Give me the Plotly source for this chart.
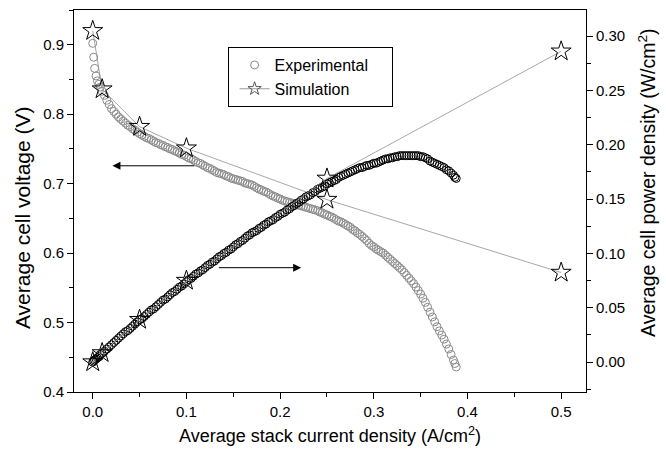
import plotly.graph_objects as go

# ---- data ----
exp_current = [0.000, 0.001, 0.002, 0.0035, 0.005, 0.0065, 0.008, 0.010, 0.0125, 0.015,
               0.0175, 0.020, 0.0225, 0.025, 0.0275, 0.030, 0.0325, 0.035, 0.0375, 0.040,
               0.0425, 0.045, 0.0475, 0.050, 0.0525, 0.055, 0.0575, 0.060, 0.0625, 0.065,
               0.0675, 0.070, 0.0725, 0.075, 0.0775, 0.080, 0.0825, 0.085, 0.0875, 0.090,
               0.0925, 0.095, 0.0975, 0.100, 0.1025, 0.105, 0.1075, 0.110, 0.1125, 0.115,
               0.1175, 0.120, 0.1225, 0.125, 0.1275, 0.130, 0.1325, 0.135, 0.1375, 0.140,
               0.1425, 0.145, 0.1475, 0.150, 0.1525, 0.155, 0.1575, 0.160, 0.1625, 0.165,
               0.1675, 0.170, 0.1725, 0.175, 0.1775, 0.180, 0.1825, 0.185, 0.1875, 0.190,
               0.1925, 0.195, 0.1975, 0.200, 0.2025, 0.205, 0.2075, 0.210, 0.2125, 0.215,
               0.2175, 0.220, 0.2225, 0.225, 0.2275, 0.230, 0.2325, 0.235, 0.2375, 0.240,
               0.2425, 0.245, 0.2475, 0.250, 0.2525, 0.255, 0.2575, 0.260, 0.2625, 0.265,
               0.2675, 0.270, 0.2725, 0.275, 0.2775, 0.280, 0.2825, 0.285, 0.2875, 0.290,
               0.2925, 0.295, 0.2975, 0.300, 0.3025, 0.305, 0.3075, 0.310, 0.3125, 0.315,
               0.3175, 0.320, 0.3225, 0.325, 0.3275, 0.330, 0.3325, 0.335, 0.3375, 0.340,
               0.3425, 0.345, 0.3475, 0.350, 0.3525, 0.355, 0.3575, 0.360, 0.3625, 0.365,
               0.3675, 0.370, 0.3725, 0.375, 0.3775, 0.380, 0.3825, 0.385, 0.3865, 0.388]
exp_voltage = [0.902, 0.882, 0.866, 0.855, 0.848, 0.843, 0.839, 0.833, 0.827, 0.820,
               0.814, 0.808, 0.804, 0.800, 0.796, 0.793, 0.790, 0.787, 0.784, 0.782,
               0.779, 0.777, 0.774, 0.772, 0.770, 0.768, 0.766, 0.765, 0.763, 0.761,
               0.759, 0.758, 0.756, 0.755, 0.753, 0.752, 0.750, 0.749, 0.747, 0.746,
               0.744, 0.742, 0.741, 0.739, 0.737, 0.736, 0.734, 0.732, 0.730, 0.729,
               0.727, 0.725, 0.723, 0.722, 0.720, 0.718, 0.716, 0.715, 0.714, 0.713,
               0.711, 0.710, 0.708, 0.707, 0.706, 0.705, 0.704, 0.703, 0.701, 0.700,
               0.699, 0.698, 0.696, 0.694, 0.692, 0.691, 0.689, 0.688, 0.686, 0.684,
               0.682, 0.681, 0.679, 0.678, 0.676, 0.675, 0.674, 0.673, 0.672, 0.671,
               0.670, 0.669, 0.668, 0.667, 0.666, 0.665, 0.664, 0.663, 0.662, 0.661,
               0.659, 0.658, 0.656, 0.655, 0.653, 0.652, 0.650, 0.648, 0.646, 0.645,
               0.643, 0.641, 0.639, 0.637, 0.634, 0.632, 0.629, 0.627, 0.624, 0.621,
               0.618, 0.614, 0.611, 0.609, 0.606, 0.604, 0.602, 0.600, 0.597, 0.594,
               0.591, 0.588, 0.585, 0.582, 0.579, 0.576, 0.572, 0.568, 0.564, 0.560,
               0.556, 0.551, 0.546, 0.541, 0.535, 0.529, 0.522, 0.515, 0.508, 0.501,
               0.494, 0.488, 0.482, 0.476, 0.469, 0.462, 0.454, 0.446, 0.441, 0.436]
exp_power = [0.000, 0.001, 0.002, 0.003, 0.004, 0.005, 0.007, 0.008, 0.010, 0.012,
             0.014, 0.016, 0.018, 0.020, 0.022, 0.024, 0.026, 0.028, 0.029, 0.031,
             0.033, 0.035, 0.037, 0.039, 0.040, 0.042, 0.044, 0.046, 0.048, 0.049,
             0.051, 0.053, 0.055, 0.057, 0.058, 0.060, 0.062, 0.064, 0.065, 0.067,
             0.069, 0.070, 0.072, 0.074, 0.076, 0.077, 0.079, 0.081, 0.082, 0.084,
             0.085, 0.087, 0.089, 0.090, 0.092, 0.093, 0.095, 0.097, 0.098, 0.100,
             0.101, 0.103, 0.104, 0.106, 0.108, 0.109, 0.111, 0.112, 0.114, 0.116,
             0.117, 0.119, 0.120, 0.121, 0.123, 0.124, 0.126, 0.127, 0.129, 0.130,
             0.131, 0.133, 0.134, 0.136, 0.137, 0.138, 0.140, 0.141, 0.143, 0.144,
             0.146, 0.147, 0.149, 0.150, 0.152, 0.153, 0.154, 0.156, 0.157, 0.159,
             0.160, 0.161, 0.162, 0.164, 0.165, 0.166, 0.167, 0.168, 0.170, 0.171,
             0.172, 0.173, 0.174, 0.175, 0.176, 0.177, 0.178, 0.179, 0.179, 0.180,
             0.181, 0.181, 0.182, 0.183, 0.183, 0.184, 0.185, 0.186, 0.187, 0.187,
             0.188, 0.188, 0.189, 0.189, 0.190, 0.190, 0.190, 0.190, 0.190, 0.190,
             0.190, 0.190, 0.190, 0.189, 0.189, 0.188, 0.187, 0.185, 0.184, 0.183,
             0.182, 0.181, 0.180, 0.179, 0.177, 0.176, 0.174, 0.172, 0.170, 0.169]

sim_current = [0.0, 0.01, 0.05, 0.10, 0.25, 0.50]
sim_voltage = [0.920, 0.836, 0.782, 0.751, 0.677, 0.572]
sim_power = [0.000, 0.0084, 0.039, 0.075, 0.169, 0.286]

legend_names = ["Experimental", "Simulation"]
x_title = "Average stack current density (A/cm<sup>2</sup>)"
y_title = "Average cell voltage (V)"
y2_title = "Average cell power density (W/cm<sup>2</sup>)"

FONT = "Liberation Sans, Arial, sans-serif"
GRAY = "#8a8a8a"
PAD = "\u00a0" * 4

fig = go.Figure()

fig.add_trace(go.Scatter(x=exp_current, y=exp_voltage, mode="markers",
                         marker=dict(symbol="circle-open", size=8, color=GRAY,
                                     line=dict(width=1, color=GRAY)),
                         showlegend=False, yaxis="y"))
fig.add_trace(go.Scatter(x=exp_current, y=exp_power, mode="markers",
                         marker=dict(symbol="circle-open", size=8, color="black",
                                     line=dict(width=1, color="black")),
                         showlegend=False, yaxis="y2"))
fig.add_trace(go.Scatter(x=sim_current, y=sim_voltage, mode="lines+markers",
                         line=dict(color="#909090", width=0.8),
                         marker=dict(symbol="star-open", size=15, color="black",
                                     line=dict(width=1, color="black")),
                         showlegend=False, yaxis="y"))
fig.add_trace(go.Scatter(x=sim_current, y=sim_power, mode="lines+markers",
                         line=dict(color="#909090", width=0.8),
                         marker=dict(symbol="star-open", size=15, color="black",
                                     line=dict(width=1, color="black")),
                         showlegend=False, yaxis="y2"))

# legend entries
fig.add_trace(go.Scatter(x=[None], y=[None], mode="markers", name=legend_names[0] + PAD,
                         marker=dict(symbol="circle-open", size=8, color=GRAY,
                                     line=dict(width=1, color=GRAY))))
fig.add_trace(go.Scatter(x=[None], y=[None], mode="lines+markers", name=legend_names[1],
                         line=dict(color="#808080", width=0.8),
                         marker=dict(symbol="star-open", size=10, color="#555555",
                                     line=dict(width=1, color="#555555"))))

# arrows
fig.add_annotation(x=0.021, y=0.7257, ax=0.110, ay=0.7257, xref="x", yref="y",
                   axref="x", ayref="y", showarrow=True, arrowhead=2, arrowsize=1.6,
                   arrowwidth=1, arrowcolor="black", text="")
fig.add_annotation(x=0.2224, y=0.579, ax=0.133, ay=0.579, xref="x", yref="y",
                   axref="x", ayref="y", showarrow=True, arrowhead=2, arrowsize=1.6,
                   arrowwidth=1, arrowcolor="black", text="")

# y-axis titles as annotations (for exact placement)
fig.add_annotation(text=y_title, xref="paper", yref="paper", x=-0.0996, y=0.4555,
                   xanchor="center", yanchor="middle", textangle=-90, showarrow=False,
                   font=dict(family=FONT, size=21, color="black"))
fig.add_annotation(text=y2_title, xref="paper", yref="paper", x=1.119, y=0.5497,
                   xanchor="center", yanchor="middle", textangle=-90, showarrow=False,
                   font=dict(family=FONT, size=19.5, color="black"))

axis_common = dict(showline=True, linecolor="black", linewidth=1, ticks="outside",
                   ticklen=6, tickwidth=1, tickcolor="black", showgrid=False,
                   zeroline=False, tickfont=dict(family=FONT, size=15, color="black"))

fig.update_layout(
    width=666, height=456,
    margin=dict(l=74, r=80, t=10, b=64),
    paper_bgcolor="white", plot_bgcolor="white",
    font=dict(family=FONT, color="black"),
    xaxis=dict(range=[-0.02, 0.5265], dtick=0.1, tick0=0, tickformat=".1f",
               mirror=True,
               minor=dict(ticks="outside", ticklen=4, dtick=0.05, tickcolor="black"),
               title=dict(text=x_title, font=dict(family=FONT, size=18), standoff=10),
               **axis_common),
    yaxis=dict(range=[0.4, 0.95], dtick=0.1, tick0=0.4, tickformat=".1f",
               minor=dict(ticks="outside", ticklen=4, dtick=0.05, tickcolor="black"),
               **axis_common),
    yaxis2=dict(range=[-0.0275, 0.324], dtick=0.05, tick0=0, tickformat=".2f",
                overlaying="y", side="right",
                minor=dict(ticks="outside", ticklen=4, dtick=0.025, tickcolor="black"),
                **axis_common),
    legend=dict(x=0.300, y=0.903, xanchor="left", yanchor="top",
                bordercolor="black", borderwidth=1, bgcolor="white",
                font=dict(family=FONT, size=16, color="black"),
                tracegroupgap=0, itemwidth=30, indentation=6),
)

fig.write_html("out.html")
